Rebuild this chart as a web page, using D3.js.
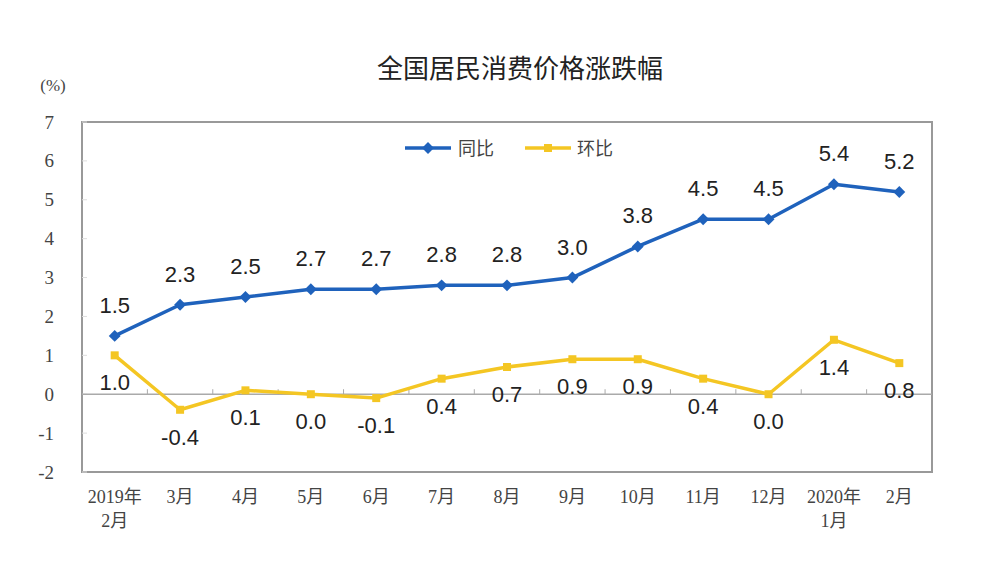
<!DOCTYPE html>
<html><head><meta charset="utf-8">
<script src="https://cdn.jsdelivr.net/npm/d3@7"></script>
<style>body{margin:0;background:#fff}svg{display:block}</style>
</head><body>
<svg id="c" width="1000" height="576"></svg>
<script>
const categories = ["2019年\n2月","3月","4月","5月","6月","7月","8月","9月","10月","11月","12月","2020年\n1月","2月"];
const yoy = [1.5,2.3,2.5,2.7,2.7,2.8,2.8,3.0,3.8,4.5,4.5,5.4,5.2];
const mom = [1.0,-0.4,0.1,0.0,-0.1,0.4,0.7,0.9,0.9,0.4,0.0,1.4,0.8];
const yTicks = [-2,-1,0,1,2,3,4,5,6,7];
const seriesNames = ["同比","环比"];

const svg = d3.select("#c");
const L=82,R=932,T=122,B=472;
const x = d3.scaleBand().domain(categories).range([L,R]);
const y = d3.scaleLinear().domain([-2,7]).range([B,T]);
const cx = d => x(d)+x.bandwidth()/2;
const blue="#1F62BC", yellow="#F4C623";
const serif="'Liberation Serif','Noto Sans CJK SC',serif";
const sans="'Liberation Sans',Arial,'Noto Sans CJK SC',sans-serif";
const f1 = d => d3.format(".1f")(d).replace("−","-");

svg.append("text").attr("x",520).attr("y",78).attr("text-anchor","middle")
  .attr("font-family","'Noto Sans CJK SC',sans-serif").attr("font-size",26).attr("fill","#222").text("全国居民消费价格涨跌幅");
svg.append("text").attr("x",53).attr("y",91).attr("text-anchor","middle")
  .attr("font-family",serif).attr("font-size",17).attr("fill","#444").text("(%)");

// frame
svg.append("rect").attr("x",L).attr("y",T).attr("width",R-L).attr("height",B-T)
  .attr("fill","none").attr("stroke","#999").attr("stroke-width",2);

// y axis labels
const ya = svg.append("g").attr("transform",`translate(${L},0)`)
  .call(d3.axisLeft(y).tickValues(yTicks).tickFormat(d=>String(d)).tickSize(0).tickPadding(28));
ya.select(".domain").remove();
ya.selectAll("text").attr("font-family",serif).attr("font-size",19).attr("fill","#444");
svg.append("g").selectAll("line").data(yTicks).join("line")
  .attr("x1",L).attr("x2",L+5).attr("y1",d=>y(d)).attr("y2",d=>y(d)).attr("stroke","#ddd");

// zero line with ticks
svg.append("line").attr("x1",L).attr("x2",R).attr("y1",y(0)).attr("y2",y(0)).attr("stroke","#aaa").attr("stroke-width",1.5);
svg.append("g").selectAll("line").data(categories.slice(1)).join("line")
  .attr("x1",d=>x(d)).attr("x2",d=>x(d)).attr("y1",y(0)).attr("y2",y(0)-5).attr("stroke","#aaa");

// x labels
svg.append("g").selectAll("text").data(categories).join("text")
  .attr("x",d=>cx(d)).attr("y",503).attr("text-anchor","middle")
  .attr("font-family",serif).attr("font-size",18).attr("fill","#444")
  .each(function(d){
    const parts=d.split("\n");
    d3.select(this).selectAll("tspan").data(parts).join("tspan")
      .attr("x",cx(d)).attr("dy",(p,i)=>i?24:0).text(p=>p);
  });

const line = d3.line().x((d,i)=>cx(categories[i])).y(d=>y(d));
svg.append("path").datum(mom).attr("d",line).attr("fill","none").attr("stroke",yellow).attr("stroke-width",3.5).attr("stroke-linejoin","round");
svg.append("g").selectAll("rect").data(mom).join("rect")
  .attr("x",(d,i)=>cx(categories[i])-4).attr("y",d=>y(d)-4).attr("width",8).attr("height",8).attr("fill",yellow);
svg.append("path").datum(yoy).attr("d",line).attr("fill","none").attr("stroke",blue).attr("stroke-width",3.5).attr("stroke-linejoin","round");
const diamond = d3.symbol().type(d3.symbolDiamond2).size(90);
svg.append("g").selectAll("path").data(yoy).join("path")
  .attr("d",diamond).attr("transform",(d,i)=>`translate(${cx(categories[i])},${y(d)})`).attr("fill",blue);

// data labels
svg.append("g").selectAll("text").data(yoy).join("text")
  .attr("x",(d,i)=>cx(categories[i])).attr("y",d=>y(d)-23).attr("text-anchor","middle")
  .attr("font-family",sans).attr("font-size",22).attr("fill","#222").text(f1);
svg.append("g").selectAll("text").data(mom).join("text")
  .attr("x",(d,i)=>cx(categories[i])).attr("y",d=>y(d)+35).attr("text-anchor","middle")
  .attr("font-family",sans).attr("font-size",22).attr("fill","#222").text(f1);

// legend
const lg = svg.append("g");
[[blue,405,458],[yellow,525,577]].forEach(([c,x0,tx],i)=>{
  lg.append("line").attr("x1",x0).attr("x2",x0+46).attr("y1",148).attr("y2",148).attr("stroke",c).attr("stroke-width",3.5);
  if(i===0) lg.append("path").attr("d",diamond).attr("transform",`translate(${x0+23},148)`).attr("fill",c);
  else lg.append("rect").attr("x",x0+19).attr("y",144).attr("width",8).attr("height",8).attr("fill",c);
  lg.append("text").attr("x",tx).attr("y",155).attr("font-family","'Noto Sans CJK SC',sans-serif").attr("font-size",18).attr("fill","#444").text(seriesNames[i]);
});
</script>
</body></html>
